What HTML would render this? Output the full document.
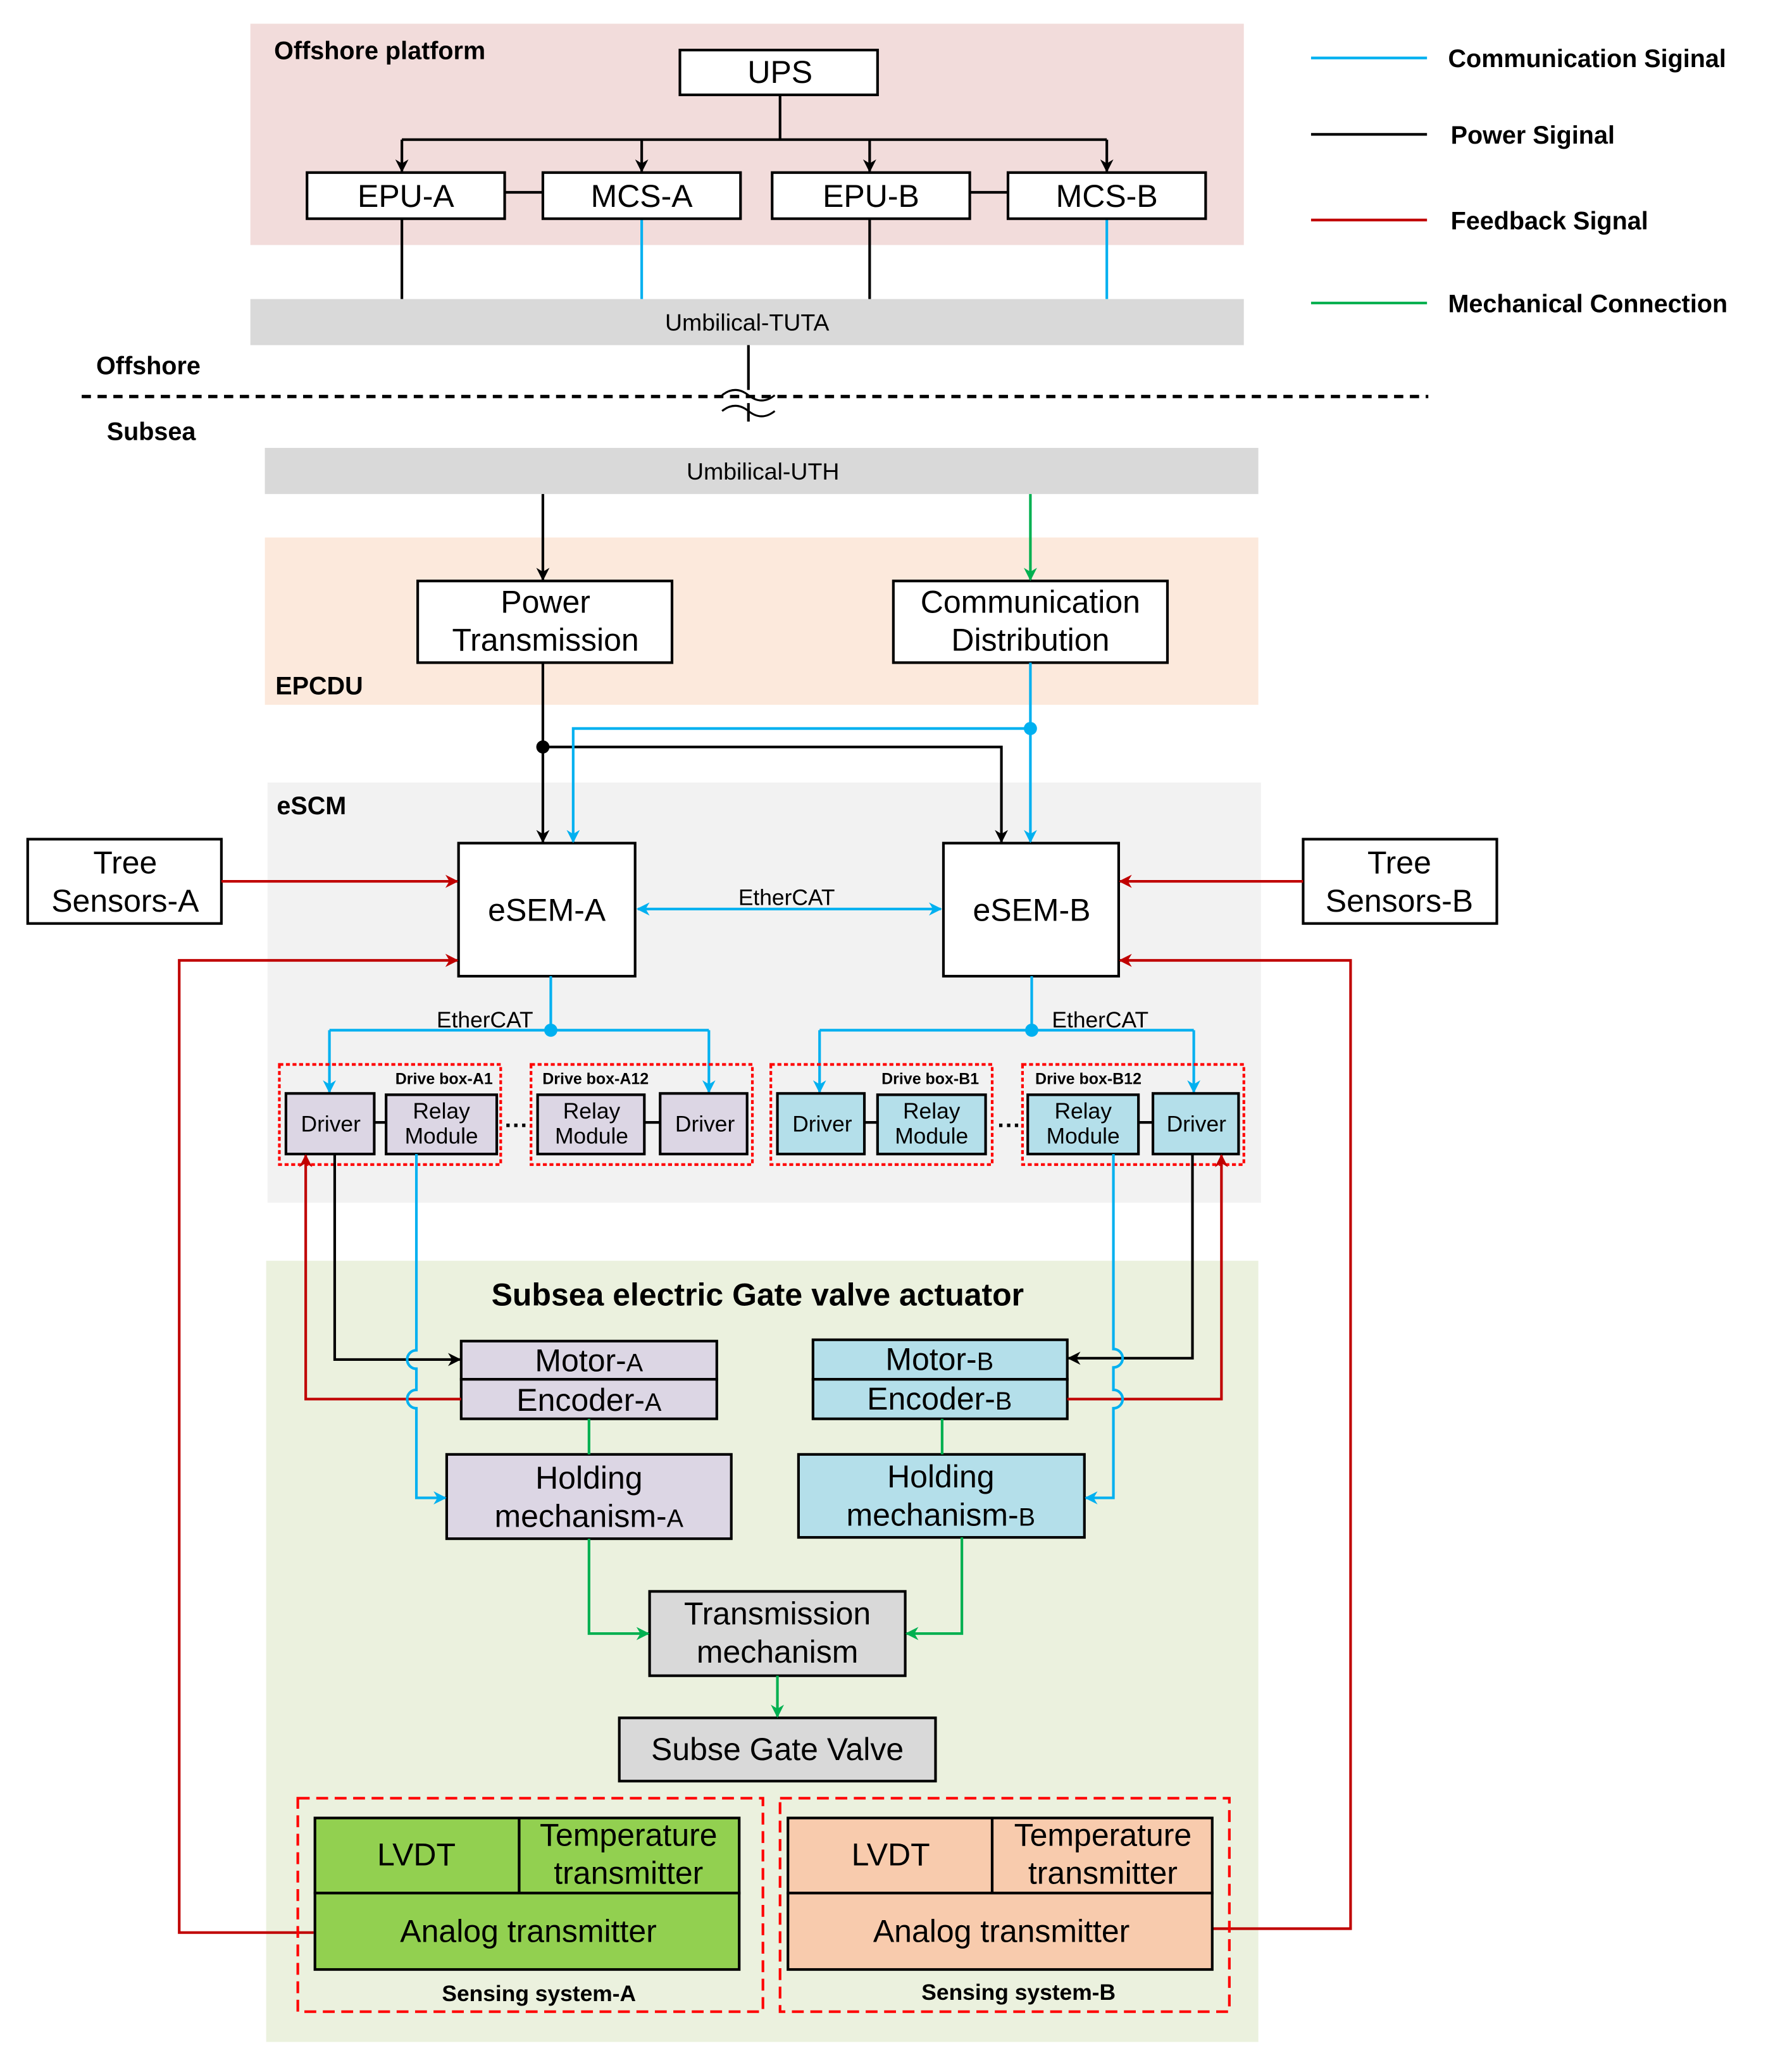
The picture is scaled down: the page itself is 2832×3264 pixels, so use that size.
<!DOCTYPE html>
<html><head><meta charset="utf-8"><style>html,body{margin:0;padding:0;background:#fff}svg{display:block}</style></head>
<body>
<svg width="2832" height="3264" viewBox="0 0 1360 1567.5" xmlns="http://www.w3.org/2000/svg" font-family="Liberation Sans, DejaVu Sans, sans-serif">
<defs>
<marker id="ak" markerWidth="10" markerHeight="10" refX="9" refY="5" orient="auto" markerUnits="userSpaceOnUse"><path d="M0,0 L10,5 L0,10 L3,5z" fill="#000"/></marker>
<marker id="ab" markerWidth="10" markerHeight="10" refX="9" refY="5" orient="auto" markerUnits="userSpaceOnUse"><path d="M0,0 L10,5 L0,10 L3,5z" fill="#00b0f0"/></marker>
<marker id="ar" markerWidth="10" markerHeight="10" refX="9" refY="5" orient="auto" markerUnits="userSpaceOnUse"><path d="M0,0 L10,5 L0,10 L3,5z" fill="#c00000"/></marker>
<marker id="ag" markerWidth="10" markerHeight="10" refX="9" refY="5" orient="auto" markerUnits="userSpaceOnUse"><path d="M0,0 L10,5 L0,10 L3,5z" fill="#00b050"/></marker>
<marker id="abs" markerWidth="10" markerHeight="10" refX="1" refY="5" orient="auto" markerUnits="userSpaceOnUse"><path d="M10,0 L0,5 L10,10 L7,5z" fill="#00b0f0"/></marker>
</defs>
<!-- backgrounds -->
<rect x="190" y="18" width="754" height="168" fill="#f2dcdb"/>
<rect x="190" y="227" width="754" height="35" fill="#d9d9d9"/>
<rect x="201" y="340" width="754" height="35" fill="#d9d9d9"/>
<rect x="201" y="408" width="754" height="127" fill="#fce9dc"/>
<rect x="203" y="594" width="754" height="319" fill="#f2f2f2"/>
<rect x="202" y="957" width="753" height="593" fill="#ebf1de"/>

<g font-weight="bold" font-size="19" fill="#000">
<text x="208" y="45">Offshore platform</text>
<text x="73" y="284">Offshore</text>
<text x="81" y="334">Subsea</text>
<text x="209" y="527">EPCDU</text>
<text x="210" y="618">eSCM</text>
<text x="575" y="991" text-anchor="middle" font-size="24">Subsea electric Gate valve actuator</text>
<text x="1099" y="51">Communication Siginal</text>
<text x="1101" y="109">Power Siginal</text>
<text x="1101" y="174">Feedback Signal</text>
<text x="1099" y="237">Mechanical Connection</text>
<text x="409" y="1519" text-anchor="middle" font-size="17">Sensing system-A</text>
<text x="773" y="1518" text-anchor="middle" font-size="17">Sensing system-B</text>
</g>
<!-- legend -->
<g stroke-width="2"><line x1="995" y1="44" x2="1083" y2="44" stroke="#00b0f0"/><line x1="995" y1="102" x2="1083" y2="102" stroke="#000"/><line x1="995" y1="167" x2="1083" y2="167" stroke="#c00000"/><line x1="995" y1="230" x2="1083" y2="230" stroke="#00b050"/></g>

<g font-size="18" text-anchor="middle"><text x="567" y="251">Umbilical-TUTA</text><text x="579" y="364">Umbilical-UTH</text></g>

<!-- offshore lines -->
<g stroke="#000" stroke-width="2" fill="none">
<path d="M592 72V106M305 106H840"/>
<path d="M305 106V130" marker-end="url(#ak)"/><path d="M487 106V130" marker-end="url(#ak)"/><path d="M660 106V130" marker-end="url(#ak)"/><path d="M840 106V130" marker-end="url(#ak)"/>
<path d="M383 146H412M736 146H765M305 166V227M660 166V227"/>
<path d="M568 262V296 M568 306V320"/>
<path d="M548 300 q10 -8 20 0 t20 0 M548 312 q10 -8 20 0 t20 0" stroke-width="1.5"/>
</g>
<line x1="62" y1="301" x2="1084" y2="301" stroke="#000" stroke-width="2.5" stroke-dasharray="7,5"/>
<g stroke="#00b0f0" stroke-width="2"><path d="M487 166V227M840 166V227"/></g>

<!-- boxes -->
<g stroke="#000" stroke-width="2" fill="#fff">
<rect x="516" y="38" width="150" height="34"/>
<rect x="233" y="131" width="150" height="35"/><rect x="412" y="131" width="150" height="35"/>
<rect x="586" y="131" width="150" height="35"/><rect x="765" y="131" width="150" height="35"/>
<rect x="317" y="441" width="193" height="62"/><rect x="678" y="441" width="208" height="62"/>
<rect x="348" y="640" width="134" height="101"/><rect x="716" y="640" width="133" height="101"/>
<rect x="21" y="637" width="147" height="64"/><rect x="989" y="637" width="147" height="64"/>
</g>
<g font-size="24" text-anchor="middle">
<text x="592" y="63">UPS</text>
<text x="308" y="157">EPU-A</text><text x="487" y="157">MCS-A</text><text x="661" y="157">EPU-B</text><text x="840" y="157">MCS-B</text>
<text x="414" y="465">Power</text><text x="414" y="494">Transmission</text>
<text x="782" y="465">Communication</text><text x="782" y="494">Distribution</text>
<text x="415" y="699">eSEM-A</text><text x="783" y="699">eSEM-B</text>
<text x="95" y="663">Tree</text><text x="95" y="692">Sensors-A</text>
<text x="1062" y="663">Tree</text><text x="1062" y="692">Sensors-B</text>
</g>

<!-- EPCDU/eSCM lines -->
<path d="M412 375V440" stroke="#000" stroke-width="2" marker-end="url(#ak)"/>
<path d="M782 375V440" stroke="#00b050" stroke-width="2" marker-end="url(#ag)"/>
<g stroke="#000" stroke-width="2" fill="none"><path d="M412 503V639" marker-end="url(#ak)"/><path d="M412 567H760V639" marker-end="url(#ak)"/></g>
<g stroke="#00b0f0" stroke-width="2" fill="none"><path d="M782 503V639" marker-end="url(#ab)"/><path d="M782 553H435V639" marker-end="url(#ab)"/></g>
<circle cx="412" cy="567" r="5"/><circle cx="782" cy="553" r="5" fill="#00b0f0"/>
<g stroke="#c00000" stroke-width="2" fill="none">
<path d="M168 669H347" marker-end="url(#ar)"/><path d="M989 669H850" marker-end="url(#ar)"/>
<path d="M238 1467H136V729H347" marker-end="url(#ar)"/><path d="M920 1464H1025V729H850" marker-end="url(#ar)"/>
</g>
<path d="M484 690H714" stroke="#00b0f0" stroke-width="2" marker-start="url(#abs)" marker-end="url(#ab)"/>
<g font-size="17" text-anchor="middle"><text x="597" y="687">EtherCAT</text><text x="368" y="780">EtherCAT</text><text x="835" y="780">EtherCAT</text></g>
<g stroke="#00b0f0" stroke-width="2" fill="none">
<path d="M418 741V782"/><path d="M250 782H538"/><path d="M250 782V829" marker-end="url(#ab)"/><path d="M538 782V829" marker-end="url(#ab)"/>
<path d="M783 741V782"/><path d="M622 782H906"/><path d="M622 782V829" marker-end="url(#ab)"/><path d="M906 782V829" marker-end="url(#ab)"/>
</g>
<circle cx="418" cy="782" r="5" fill="#00b0f0"/><circle cx="783" cy="782" r="5" fill="#00b0f0"/>

<!-- drive boxes -->
<g stroke="#ff0000" stroke-width="2" stroke-dasharray="3,2" fill="none">
<rect x="212" y="808" width="168" height="76"/><rect x="403" y="808" width="168" height="76"/>
<rect x="585" y="808" width="168" height="76"/><rect x="776" y="808" width="168" height="76"/>
</g>
<g font-size="12" font-weight="bold" text-anchor="middle"><text x="337" y="823">Drive box-A1</text><text x="452" y="823">Drive box-A12</text><text x="706" y="823">Drive box-B1</text><text x="826" y="823">Drive box-B12</text></g>
<g stroke="#000" stroke-width="2">
<path d="M284 852H293M489 852H501M656 852H666M864 852H875"/>
<g fill="#dcd6e4"><rect x="217" y="830" width="67" height="46"/><rect x="293" y="831" width="84" height="45"/><rect x="408" y="831" width="81" height="45"/><rect x="501" y="830" width="66" height="46"/></g>
<g fill="#b4dfea"><rect x="590" y="830" width="66" height="46"/><rect x="666" y="831" width="82" height="45"/><rect x="780" y="831" width="84" height="45"/><rect x="875" y="830" width="65" height="46"/></g>
</g>
<g font-size="17" text-anchor="middle">
<text x="251" y="859">Driver</text><text x="335" y="849">Relay</text><text x="335" y="868">Module</text>
<text x="449" y="849">Relay</text><text x="449" y="868">Module</text><text x="535" y="859">Driver</text>
<text x="624" y="859">Driver</text><text x="707" y="849">Relay</text><text x="707" y="868">Module</text>
<text x="822" y="849">Relay</text><text x="822" y="868">Module</text><text x="908" y="859">Driver</text>
</g>
<g font-size="18" text-anchor="middle" font-weight="bold"><text x="392" y="860">···</text><text x="766" y="860">···</text></g>

<!-- actuator boxes -->
<g stroke="#000" stroke-width="2">
<g fill="#dcd6e4"><rect x="350" y="1018" width="194" height="29"/><rect x="350" y="1047" width="194" height="30"/><rect x="339" y="1104" width="216" height="64"/></g>
<g fill="#b4dfea"><rect x="617" y="1017" width="193" height="30"/><rect x="617" y="1047" width="193" height="30"/><rect x="606" y="1104" width="217" height="63"/></g>
<g fill="#d9d9d9"><rect x="493" y="1208" width="194" height="64"/><rect x="470" y="1304" width="240" height="48"/></g>
<g fill="#92d050"><rect x="239" y="1380" width="155" height="57"/><rect x="394" y="1380" width="167" height="57"/><rect x="239" y="1437" width="322" height="58"/></g>
<g fill="#f8cbad"><rect x="598" y="1380" width="155" height="57"/><rect x="753" y="1380" width="167" height="57"/><rect x="598" y="1437" width="322" height="58"/></g>
</g>
<g stroke="#ff0000" stroke-width="2" stroke-dasharray="9,5" fill="none"><rect x="226" y="1365" width="353" height="162"/><rect x="592" y="1365" width="341" height="162"/></g>
<g font-size="24" text-anchor="middle">
<text x="447" y="1041">Motor-<tspan font-size="19">A</tspan></text><text x="447" y="1071">Encoder-<tspan font-size="19">A</tspan></text>
<text x="713" y="1040">Motor-<tspan font-size="19">B</tspan></text><text x="713" y="1070">Encoder-<tspan font-size="19">B</tspan></text>
<text x="447" y="1130">Holding</text><text x="447" y="1159">mechanism-<tspan font-size="19">A</tspan></text>
<text x="714" y="1129">Holding</text><text x="714" y="1158">mechanism-<tspan font-size="19">B</tspan></text>
<text x="590" y="1233">Transmission</text><text x="590" y="1262">mechanism</text>
<text x="590" y="1336">Subse Gate Valve</text>
<text x="316" y="1416">LVDT</text><text x="477" y="1401">Temperature</text><text x="477" y="1430">transmitter</text>
<text x="401" y="1474">Analog transmitter</text>
<text x="676" y="1416">LVDT</text><text x="837" y="1401">Temperature</text><text x="837" y="1430">transmitter</text>
<text x="760" y="1474">Analog transmitter</text>
</g>

<!-- actuator lines -->
<g stroke="#000" stroke-width="2" fill="none"><path d="M254 876V1032H349" marker-end="url(#ak)"/><path d="M905 876V1031H811" marker-end="url(#ak)"/></g>
<g stroke="#c00000" stroke-width="2" fill="none"><path d="M350 1062H232V877" marker-end="url(#ar)"/><path d="M810 1062H927V877" marker-end="url(#ar)"/></g>
<g stroke="#00b0f0" stroke-width="2" fill="none">
<path d="M316 876V1025 a7 7 0 0 0 0 14 V1055 a7 7 0 0 0 0 14 V1137H338" marker-end="url(#ab)"/>
<path d="M845 876V1024 a7 7 0 0 1 0 14 V1055 a7 7 0 0 1 0 14 V1137H824" marker-end="url(#ab)"/>
</g>
<g stroke="#00b050" stroke-width="2" fill="none">
<path d="M447 1077V1104M715 1077V1104"/>
<path d="M447 1168V1240H492" marker-end="url(#ag)"/><path d="M730 1167V1240H688" marker-end="url(#ag)"/>
<path d="M590 1272V1303" marker-end="url(#ag)"/>
</g>
</svg>
</body></html>
